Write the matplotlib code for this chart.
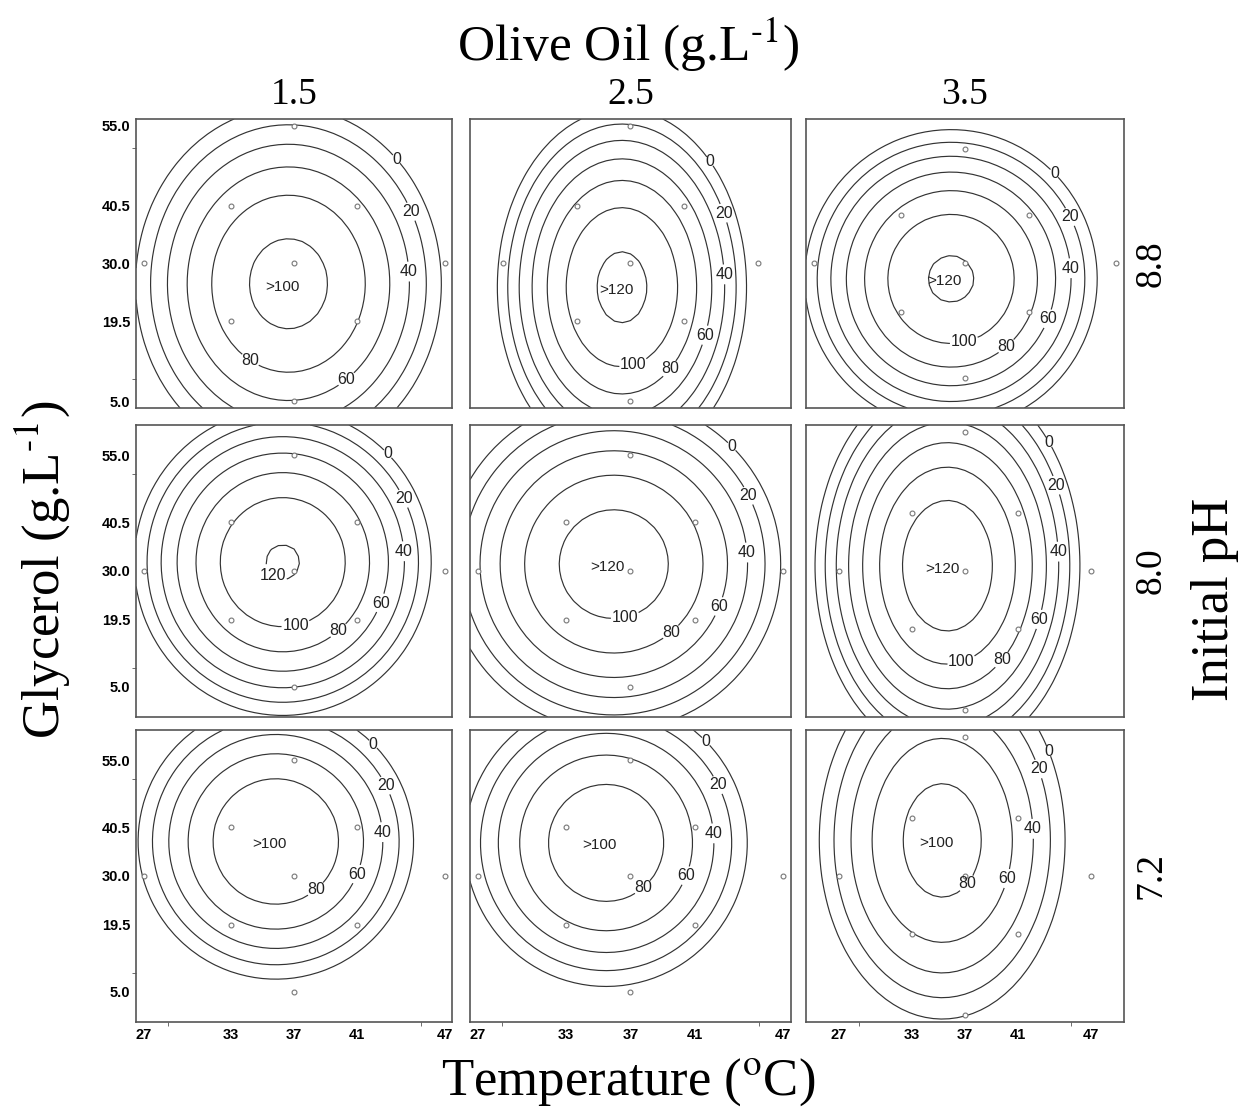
import numpy as np
import matplotlib.pyplot as plt

plt.rcParams['font.family'] = ['Liberation Sans', 'DejaVu Sans']
plt.rcParams['mathtext.fontset'] = 'stix'

# ---------- data ----------
oil_levels = ['1.5', '2.5', '3.5']          # columns
ph_levels = ['8.8', '8.0', '7.2']           # rows
temp_ticks = ['27', '33', '37', '41', '47']
glyc_ticks = ['5.0', '19.5', '30.0', '40.5', '55.0']

# central composite design (coded units)
ALPHA = 2.38
design_x = [-1, 1, -1, 1, -ALPHA, ALPHA, 0, 0, 0]
design_y = [-1, -1, 1, 1, 0, 0, -ALPHA, ALPHA, 0]

# estimated response surface per panel (rows: pH, cols: olive oil)
peak = [[107, 125, 123], [121.6, 112, 135.7], [101, 96, 89]]
cen_x = [[-0.09, -0.16, -0.22], [-0.18, -0.26, -0.33], [-0.29, -0.38, -0.43]]
cen_y = [[-0.35, -0.41, -0.32], [0.18, 0.14, 0.09], [0.71, 0.68, 0.61]]
zero_rx = [[2.42, 2.33, 2.30], [2.35, 2.60, 2.50], [2.18, 2.20, 2.32]]
zero_ry = [[3.05, 3.08, 3.10], [3.15, 3.42, 3.29], [2.83, 2.95, 3.06]]
top_level = [[100, 120, 120], [120, 100, 120], [80, 80, 80]]
center_txt = [['>100', '>120', '>120'], [None, '>120', '>120'], ['>100', '>100', '>100']]

# axis half-ranges (coded)
x_half = [[2.5, 3.0, 2.5], [2.5, 2.5, 3.0], [2.5, 2.5, 3.0]]
y_half = [[2.5, 2.5, 3.0], [3.0, 3.0, 2.5], [3.0, 3.0, 2.5]]

# where the contour labels sit (angle round the ellipse, degrees)
label_angle = {0: 45, 20: 27, 40: 5, 60: -22, 80: -50, 100: -78, 120: -125}
# first panel has its inner labels further round
label_angle_r1c1 = {60: -55, 80: -120}

# ---------- layout ----------
col_left = [0.109, 0.3763, 0.6453]
col_w = [0.253, 0.257, 0.2546]
row_bottom = [0.6341, 0.357, 0.0834]
row_h = [0.2592, 0.2619, 0.2619]

serif = 'Liberation Serif'
tick_font = {'family': ['Liberation Sans Narrow', 'Liberation Sans'], 'weight': 'bold', 'size': 10.5}

fig = plt.figure(figsize=(12.49, 11.15), dpi=100)

for r in range(3):
    for c in range(3):
        ax = fig.add_axes([col_left[c], row_bottom[r], col_w[c], row_h[r]])
        xh, yh = x_half[r][c], y_half[r][c]
        P = peak[r][c]
        cx, cy = cen_x[r][c], cen_y[r][c]
        sx, sy = zero_rx[r][c], zero_ry[r][c]

        # coarse grid, like the original software
        xg = np.linspace(-xh, xh, 41)
        yg = np.linspace(-yh, yh, 41)
        X, Y = np.meshgrid(xg, yg)
        Z = P * (1 - ((X - cx) / sx) ** 2 - ((Y - cy) / sy) ** 2)

        levels = np.arange(0, top_level[r][c] + 1, 20)
        cs = ax.contour(X, Y, Z, levels=levels, colors='#333333', linewidths=0.85)

        # contour labels
        txt = center_txt[r][c]
        spots = []
        for L in levels:
            if txt is not None and txt == '>%d' % L:
                continue
            rl = np.sqrt(1 - L / P)
            th = label_angle[L]
            if r == 0 and c == 0:
                th = label_angle_r1c1.get(L, th)
            for _ in range(30):
                px = cx + sx * rl * np.cos(np.radians(th))
                py = cy + sy * rl * np.sin(np.radians(th))
                if abs(px) < xh - 0.25 and abs(py) < yh - 0.2:
                    break
                th -= 5
            spots.append((px, py))
        labs = ax.clabel(cs, manual=spots, inline=True, inline_spacing=1,
                         fontsize=11.5, fmt='%d')
        for t in labs:
            t.set_rotation(0)
            t.set_color('#222222')

        if txt is not None:
            ax.text(cx - 0.1, cy - 0.05, txt, ha='center', va='center',
                    fontsize=11, color='#222222')

        ax.plot(design_x, design_y, 'o', ls='none', ms=3.5, mfc='white',
                mec='#777777', mew=0.8)

        ax.set_xlim(-xh, xh)
        ax.set_ylim(-yh, yh)

        pos = [-ALPHA, -1, 0, 1, ALPHA]
        if c == 0:
            ax.set_yticks(pos, glyc_ticks, fontdict=tick_font)
            ax.set_yticks([-2, -1, 0, 1, 2], minor=True)
        else:
            ax.set_yticks([])
        if r == 2:
            ax.set_xticks(pos, temp_ticks, fontdict=tick_font)
            ax.set_xticks([-2, -1, 0, 1, 2], minor=True)
        else:
            ax.set_xticks([])
        ax.tick_params(which='major', length=0, pad=4)
        ax.tick_params(which='minor', length=3, direction='out', color='#555555')
        for sp in ax.spines.values():
            sp.set_color('#555555')
            sp.set_linewidth(1.2)

# headers and axis titles
fig.text(0.503, 0.960, 'Olive Oil (g.L$^{\\text{-1}}$)', ha='center', va='center',
         family=serif, fontsize=37)
for c in range(3):
    fig.text(col_left[c] + col_w[c] / 2, 0.915, oil_levels[c], ha='center', va='center',
             family=serif, fontsize=27)
for r in range(3):
    fig.text(0.922, row_bottom[r] + row_h[r] / 2, ph_levels[r], ha='center', va='center',
             rotation=90, family=serif, fontsize=27)
fig.text(0.973, 0.462, 'Initial pH', ha='center', va='center', rotation=90,
         family=serif, fontsize=38)
fig.text(0.034, 0.489, 'Glycerol (g.L$^{\\text{-1}}$)', ha='center', va='center',
         rotation=90, family=serif, fontsize=38)
fig.text(0.503, 0.029, 'Temperature ($^{\\text{o}}$C)', ha='center', va='center',
         family=serif, fontsize=38)

fig.savefig('out.png', dpi=100)
